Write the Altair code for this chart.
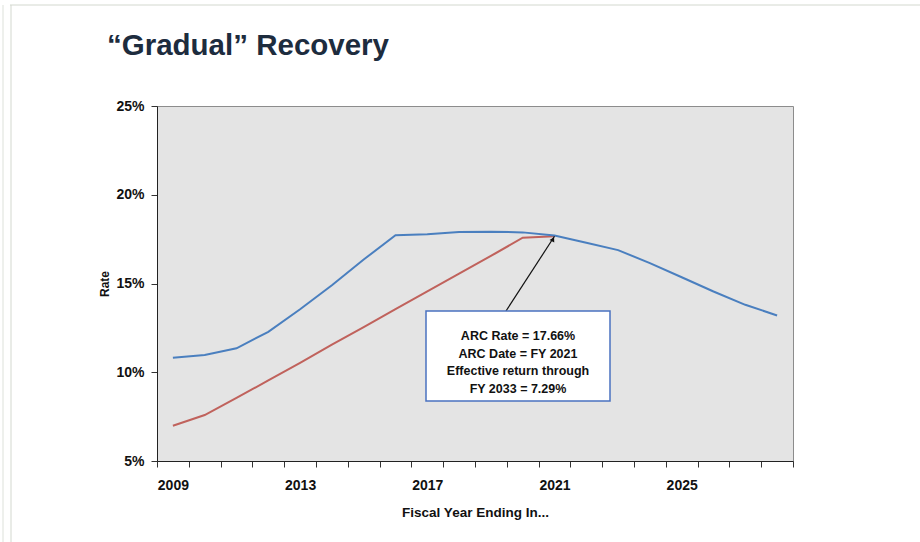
import altair as alt
import pandas as pd

# Fiscal years on the horizontal axis
years = list(range(2009, 2029))
labelled_years = [2009, 2013, 2017, 2021, 2025]

# Projected contribution rate (percent of payroll)
projected_rate = [10.82, 10.97, 11.35, 12.28, 13.55, 14.90, 16.35, 17.72, 17.78, 17.90,
                  17.92, 17.88, 17.70, 17.30, 16.88, 16.15, 15.35, 14.55, 13.80, 13.20]

# Phase-in toward the ARC, reached in FY 2021
phase_in_years = list(range(2009, 2022))
phase_in_rate = [6.99, 7.59, 8.55, 9.54, 10.53, 11.55, 12.54, 13.56, 14.55, 15.55,
                 16.55, 17.58, 17.66]

y_ticks = [5, 10, 15, 20, 25]

arc_rate = 17.66
arc_date = 2021
note_lines = ["ARC Rate = 17.66%", "ARC Date = FY 2021",
              "Effective return through", "FY 2033 = 7.29%"]

FONT = "Liberation Sans"
BLUE = "#4a7fbf"
RED = "#c0625c"

proj_df = pd.DataFrame({"year": years, "rate": projected_rate})
phase_df = pd.DataFrame({"year": phase_in_years, "rate": phase_in_rate})
arc_df = pd.DataFrame({"year": [arc_date], "rate": [arc_rate]})
one = pd.DataFrame({"k": [0]})

label_list = ",".join(str(y) for y in labelled_years)

x_enc = alt.X(
    "year:O",
    title="Fiscal Year Ending In...",
    scale=alt.Scale(type="band", domain=years, paddingInner=0, paddingOuter=0),
    axis=alt.Axis(
        values=years,
        tickBand="extent",
        labelExpr=f"indexof([{label_list}], datum.value) >= 0 ? datum.label : ''",
        labelAngle=0,
        labelOverlap=False,
        labelFontSize=14,
        labelFontWeight="bold",
        labelColor="#111111",
        labelPadding=11,
        tickSize=6,
        tickColor="#333333",
        domainColor="#222222",
        titleFontSize=13.5,
        titleFontWeight="bold",
        titleColor="#111111",
        titlePadding=13,
    ),
)

y_enc = alt.Y(
    "rate:Q",
    title="Rate",
    scale=alt.Scale(domain=[5, 25], nice=False, zero=False),
    axis=alt.Axis(
        values=y_ticks,
        labelExpr="datum.value + '%'",
        labelFontSize=14,
        labelFontWeight="bold",
        labelColor="#111111",
        labelPadding=7,
        tickSize=6,
        tickColor="#333333",
        domainColor="#222222",
        grid=False,
        titleFontSize=12,
        titleFontWeight="bold",
        titleColor="#111111",
        titlePadding=4,
    ),
)

phase_line = alt.Chart(phase_df).mark_line(color=RED, strokeWidth=2).encode(x=x_enc, y=y_enc)
proj_line = alt.Chart(proj_df).mark_line(color=BLUE, strokeWidth=2).encode(x=x_enc, y=y_enc)

# Callout box with its note
note_box = alt.Chart(one).mark_rect(fill="white", stroke="#4a72c0", strokeWidth=1.5).encode(
    x=alt.value(269), x2=alt.value(453), y=alt.value(205), y2=alt.value(295)
)
note_text = alt.Chart(one).mark_text(
    text=note_lines, font=FONT, fontSize=12.5, fontWeight="bold", color="#111111",
    lineHeight=17.7, align="center", baseline="middle",
).encode(x=alt.value(361), y=alt.value(230))

# Arrow from the box to the ARC point
arrow = alt.Chart(arc_df).mark_rule(color="#111111", strokeWidth=1.2).encode(
    x=x_enc, y=y_enc, x2=alt.value(349), y2=alt.value(205)
)
arrow_head = alt.Chart(arc_df).mark_point(
    shape="triangle-up", filled=True, size=28, angle=28, color="#111111", opacity=1,
    xOffset=-1.5, yOffset=3,
).encode(x=x_enc, y=y_enc)

# Faint slide frame
frame_top = alt.Chart(one).mark_rule(color="#d3d8cf", strokeWidth=1).encode(
    x=alt.value(-147), x2=alt.value(763), y=alt.value(-101), y2=alt.value(-101)
)
frame_left1 = alt.Chart(one).mark_rule(color="#dde1da", strokeWidth=1).encode(
    x=alt.value(-154), x2=alt.value(-154), y=alt.value(-101), y2=alt.value(436)
)
frame_left2 = alt.Chart(one).mark_rule(color="#d3d8cf", strokeWidth=1).encode(
    x=alt.value(-146), x2=alt.value(-146), y=alt.value(-101), y2=alt.value(436)
)

chart = (
    alt.layer(phase_line, proj_line, arrow, arrow_head, note_box, note_text,
              frame_top, frame_left1, frame_left2)
    .properties(
        width=636,
        height=355,
        autosize=alt.AutoSizeParams(type="none"),
        padding={"left": 157, "top": 106, "right": 127, "bottom": 81},
        title=alt.TitleParams(
            text="\u201cGradual\u201d Recovery",
            anchor="start",
            frame="group",
            dx=-50,
            offset=-80,
            baseline="alphabetic",
            font=FONT,
            fontSize=29.5,
            fontWeight="bold",
            color="#1d2c3e",
        ),
    )
    .configure(font=FONT, background="white")
    .configure_view(fill="#e4e4e4", stroke="#8c8c8c", strokeWidth=1)
)

chart.save("out.html", embed_options={"renderer": "svg", "actions": False})
